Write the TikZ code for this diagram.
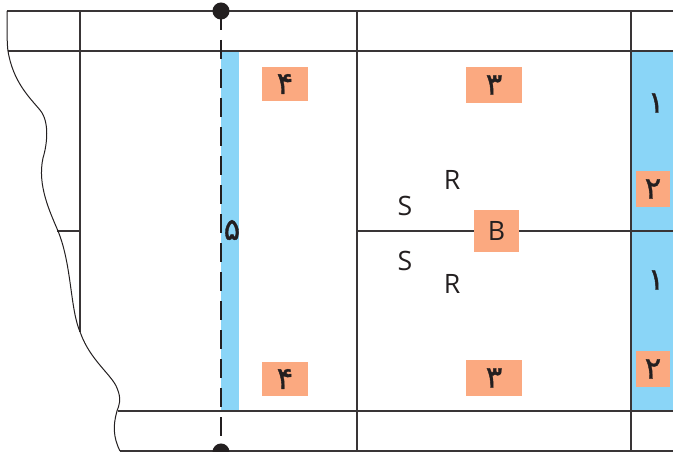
\documentclass[tikz,border=0pt]{standalone}
\usepackage{fontspec}
\setmainfont{Open Sans}
\newfontfamily\farsifont[Script=Arabic,FakeBold=1.2]{DejaVu Sans}
\TeXXeTstate=1
\definecolor{zone}{HTML}{8AD5F7}
\definecolor{tag}{HTML}{FBA980}
\definecolor{ink}{HTML}{231F20}
\newcommand{\fa}[1]{{\farsifont\beginR #1\endR}}
\tikzset{
wall/.style={draw=ink!90,line width=1.8pt},
tagbox/.style={fill=tag,inner sep=0pt,text=ink,font=\fontsize{23}{23}\selectfont},
letter/.style={inner sep=0pt,text=ink,font=\fontsize{20}{20}\selectfont},
digit/.style={inner sep=0pt,text=ink,font=\fontsize{23}{23}\selectfont}
}
\begin{document}
\begin{tikzpicture}[x=0.75pt,y=-0.75pt]
\useasboundingbox(0,0)rectangle(673,452);
\clip(0,0)rectangle(673,452);
\fill[zone](221,51)rectangle(239,411);
\fill[zone](631,51)rectangle(673,411);
\draw[wall](7,11)coordinate(TL)--(673,11)coordinate(TR);
\draw[wall](8,51)coordinate(UL)--(673,51)coordinate(UR);
\draw[wall](118,411)coordinate(LL)--(673,411)coordinate(LR);
\draw[wall](120,451)coordinate(BL)--(673,451)coordinate(BR);
\draw[wall](80,11)--(80,332)coordinate(W);
\draw[wall](357,11)--(357,452);
\draw[wall](631,11)--(631,452);
\draw[wall](57,231)--(80,231);
\draw[wall](357,231)--(673,231);
\draw[draw=ink,line width=0.75pt](7,11)..controls(7,30)and(7,45)..(8,51)
..controls(13,82)and(30,98)..(40,110)..controls(50,122)and(47,145)..(43,158)
..controls(37,185)and(50,212)..(58,231)..controls(72,265)and(70,310)..(80.5,333)
..controls(90,360)and(112,375)..(117,388)..controls(122,400)and(119,405)..(117,411)
..controls(113,425)and(113,437)..(120,451);
\draw[draw=ink,line width=1.6pt,dash pattern=on 14.25pt off 7.5pt](221,11)--(221,452);
\fill[ink](221,11)coordinate(DotA)circle(6.4pt);
\fill[ink](221,452)coordinate(DotB)circle(6.4pt);
\node[tagbox,minimum width=34.5pt,minimum height=26pt](fourA)at(285,84){\fa{۴}};
\node[tagbox,minimum width=34.5pt,minimum height=26pt](fourB)at(285,379){\fa{۴}};
\node[tagbox,minimum width=42pt,minimum height=27pt](threeA)at(494,85){\fa{۳}};
\node[tagbox,minimum width=42pt,minimum height=27pt](threeB)at(494,378){\fa{۳}};
\node[tagbox,minimum width=25.5pt,minimum height=27pt](twoA)at(653,189){\fa{۲}};
\node[tagbox,minimum width=25.5pt,minimum height=27pt](twoB)at(653,369){\fa{۲}};
\node[tagbox,minimum width=34pt,minimum height=31pt,font=\fontsize{20}{20}\selectfont](bolt)at(496.5,231){B};
\node[digit](oneA)at(656,103){\fa{۱}};
\node[digit](oneB)at(656,280){\fa{۱}};
\node[digit](five)at(232,230){\fa{۵}};
\node[letter](sA)at(405,206){S};
\node[letter](sB)at(405,261){S};
\node[letter](rA)at(452,180){R};
\node[letter](rB)at(452,284){R};
\end{tikzpicture}
\end{document}
